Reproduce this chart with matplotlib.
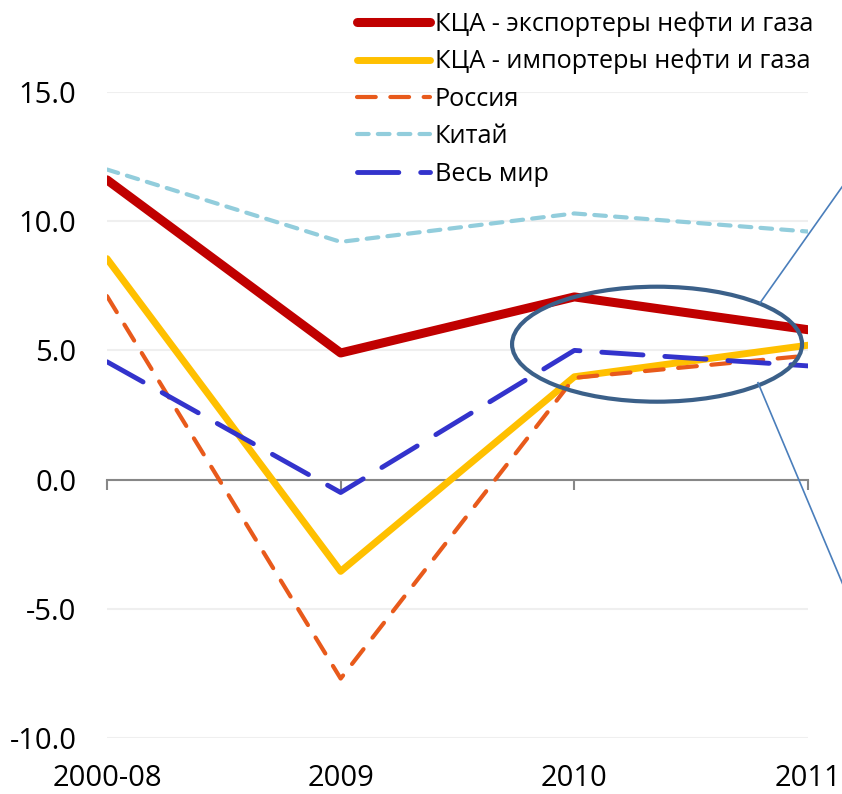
import numpy as np
import matplotlib.pyplot as plt
from matplotlib.patches import Ellipse
from matplotlib.lines import Line2D

plt.rcParams['font.family'] = ['Open Sans', 'DejaVu Sans']

years = ['2000-08', '2009', '2010', '2011']
exporters = [11.6, 4.9, 7.07, 5.8]
importers = [8.55, -3.55, 3.98, 5.2]
russia = [7.1, -7.7, 3.94, 4.8]
china = [12.0, 9.2, 10.3, 9.6]
world = [4.56, -0.5, 5.0, 4.4]

x = np.arange(len(years))

fig = plt.figure(figsize=(8.42, 7.94), dpi=100)
ax = fig.add_axes([107/842, 1-738/794, (808-107)/842, (738-92)/794])

ax.plot(x, exporters, color='#C00000', lw=6.5, solid_capstyle='round', solid_joinstyle='round',
        label='КЦА - экспортеры нефти и газа', zorder=4)
ax.plot(x, importers, color='#FFC000', lw=5, solid_capstyle='round', solid_joinstyle='round',
        label='КЦА - импортеры нефти и газа', zorder=3)
ax.plot(x, russia, color='#E85A1B', lw=3, dashes=(4.5, 3.5), dash_capstyle='round',
        label='Россия', zorder=3)
ax.plot(x, china, color='#92CDDC', lw=3, dashes=(2.8, 2.2), dash_capstyle='round',
        label='Китай', zorder=3)
ax.plot(x, world, color='#3333CC', lw=3.5, dashes=(8.5, 4.5), dash_capstyle='round',
        label='Весь мир', zorder=5)

ax.set_xlim(0, 3)
ax.set_ylim(-10, 15)
ax.set_yticks([-10, -5, 0, 5, 10, 15])
ax.set_yticklabels(['%.1f' % v for v in [-10, -5, 0, 5, 10, 15]], fontsize=21)
ax.tick_params(axis='y', length=0, pad=22)
ax.yaxis.grid(True, color='#EFEFEF', lw=1.5)
ax.set_axisbelow(True)
for s in ['left', 'right', 'top']:
    ax.spines[s].set_visible(False)
ax.spines['bottom'].set_position(('data', 0))
ax.spines['bottom'].set_color('#878787')
ax.spines['bottom'].set_linewidth(1.5)
ax.set_xticks(x)
ax.set_xticklabels([])
ax.tick_params(axis='x', length=7, width=1.5, color='#878787', direction='out')
for i, lab in enumerate(years):
    ax.text(i, -11.0, lab, ha='center', va='top', fontsize=21, clip_on=False)

# ellipse and callout
ell = Ellipse((2.354, 5.24), 1.241, 4.45, fill=False, ec='#3B6089', lw=3, zorder=6, clip_on=False)
ax.add_patch(ell)
ax.add_line(Line2D([2.795, 3.3], [6.84, 13.3], color='#4A7EBB', lw=1.2, clip_on=False, zorder=6))
ax.add_line(Line2D([2.786, 3.3], [3.75, -7.3], color='#4A7EBB', lw=1.2, clip_on=False, zorder=6))

fig.legend(loc='upper left', bbox_to_anchor=(347/842, 1.0 - 1/794), frameon=False, fontsize=18.2,
           handlelength=2.9, handletextpad=0.17, labelspacing=0.49, borderaxespad=0)

plt.savefig('out.png', dpi=100)
